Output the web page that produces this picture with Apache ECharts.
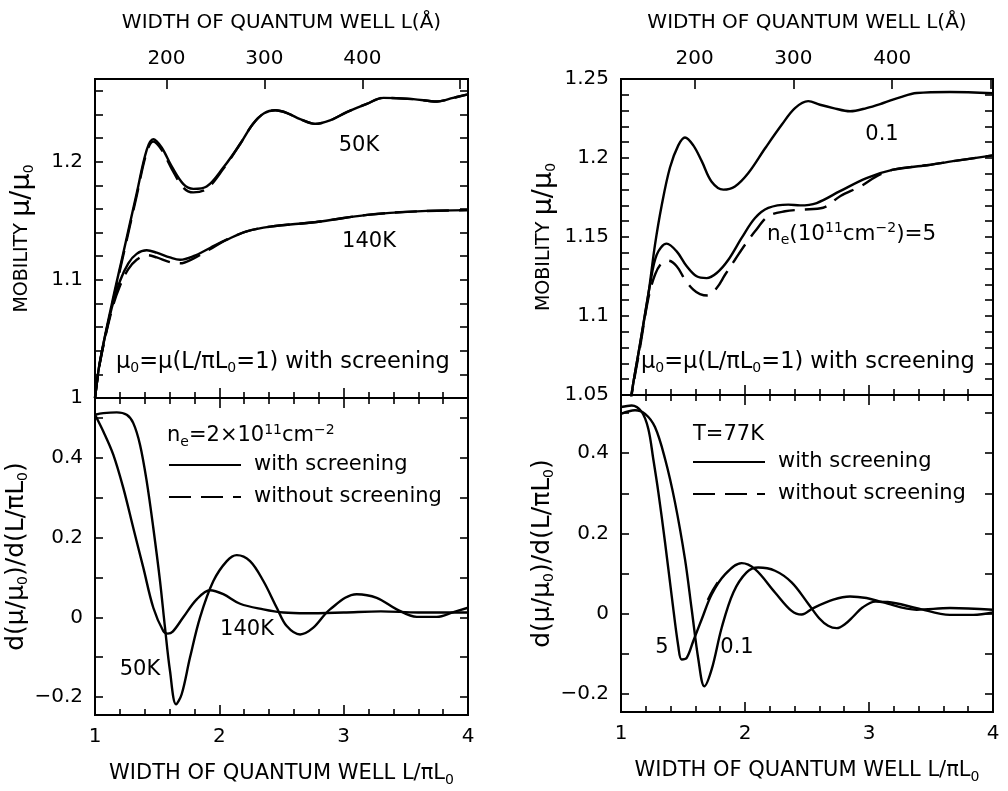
<!DOCTYPE html>
<html><head><meta charset="utf-8">
<script src="https://cdn.jsdelivr.net/npm/echarts@6/dist/echarts.min.js"></script>
<style>html,body{margin:0;padding:0;background:#fff}#c{width:1008px;height:791px}</style>
</head><body><div id="c"></div><script>
// ---------------- DATA ----------------
// Left column (n_e = 2x10^11 cm^-2), top panel: mobility mu/mu0
const lt50K_x  = [1.0, 1.04, 1.134, 1.228, 1.335, 1.416, 1.469, 1.536, 1.617, 1.711, 1.791, 1.898, 2.032, 2.167, 2.27, 2.36, 2.45, 2.55, 2.65, 2.77, 2.89, 3.025, 3.186, 3.32, 3.56, 3.75, 3.88, 4.0];
const lt50K_y  = [1.0, 1.031, 1.079, 1.123, 1.173, 1.210, 1.219, 1.212, 1.196, 1.181, 1.177, 1.179, 1.195, 1.215, 1.232, 1.241, 1.2435, 1.241, 1.236, 1.232, 1.235, 1.242, 1.249, 1.254, 1.253, 1.251, 1.254, 1.257];
const lt50Kd_y = [1.0, 1.030, 1.077, 1.121, 1.171, 1.208, 1.217, 1.210, 1.194, 1.178, 1.174, 1.177, 1.194, 1.215, 1.232, 1.241, 1.2435, 1.241, 1.236, 1.232, 1.235, 1.242, 1.249, 1.254, 1.253, 1.251, 1.254, 1.257];
const lt140K_x  = [1.0, 1.04, 1.134, 1.201, 1.268, 1.335, 1.416, 1.496, 1.603, 1.684, 1.791, 1.925, 2.06, 2.22, 2.41, 2.78, 3.19, 3.59, 4.0];
const lt140K_y  = [1.0, 1.031, 1.076, 1.099, 1.114, 1.122, 1.125, 1.123, 1.119, 1.117, 1.120, 1.127, 1.134, 1.141, 1.145, 1.149, 1.155, 1.158, 1.159];
const lt140Kd_y = [1.0, 1.030, 1.074, 1.095, 1.109, 1.117, 1.121, 1.119, 1.115, 1.114, 1.118, 1.126, 1.134, 1.141, 1.145, 1.149, 1.155, 1.158, 1.159];
// Left column, bottom panel: derivative
const lb50K_x = [1.0, 1.067, 1.175, 1.255, 1.308, 1.362, 1.416, 1.469, 1.523, 1.563, 1.603, 1.652, 1.697, 1.764, 1.845, 1.952, 2.06, 2.14, 2.247, 2.354, 2.462, 2.542, 2.65, 2.756, 2.89, 3.105, 3.266, 3.427, 3.588, 3.749, 3.883, 4.0];
const lb50K_y = [0.508, 0.512, 0.514, 0.508, 0.487, 0.433, 0.341, 0.224, 0.091, -0.026, -0.134, -0.218, -0.193, -0.101, 0.0, 0.091, 0.141, 0.156, 0.141, 0.091, 0.024, -0.022, -0.043, -0.026, 0.02, 0.058, 0.049, 0.02, 0.001, 0.001, 0.013, 0.024];
const lb140K_x = [1.0, 1.067, 1.147, 1.228, 1.308, 1.389, 1.469, 1.55, 1.585, 1.625, 1.71, 1.818, 1.925, 2.032, 2.167, 2.354, 2.515, 2.7, 3.0, 3.3, 3.6, 4.0];
const lb140K_y = [0.508, 0.466, 0.408, 0.324, 0.224, 0.124, 0.024, -0.035, -0.041, -0.036, 0.0, 0.045, 0.068, 0.058, 0.034, 0.02, 0.012, 0.01, 0.012, 0.015, 0.012, 0.012];
// Right column (T = 77K), top panel: mobility, n_e = 0.1 and 5 (x10^11 cm^-2)
const rt01_x = [1.0, 1.086, 1.153, 1.22, 1.274, 1.328, 1.395, 1.462, 1.516, 1.583, 1.651, 1.731, 1.825, 1.919, 2.027, 2.161, 2.296, 2.403, 2.51, 2.605, 2.712, 2.847, 2.98, 3.115, 3.25, 3.385, 3.653, 4.0];
const rt01_y = [1.0, 1.051, 1.082, 1.1135, 1.145, 1.170, 1.194, 1.208, 1.213, 1.208, 1.198, 1.185, 1.180, 1.182, 1.1905, 1.206, 1.221, 1.2316, 1.236, 1.2337, 1.2316, 1.2296, 1.2316, 1.2348, 1.2384, 1.2411, 1.2418, 1.241];
const rt5_x = [1.0, 1.086, 1.153, 1.234, 1.288, 1.368, 1.449, 1.53, 1.61, 1.691, 1.772, 1.866, 1.973, 2.081, 2.188, 2.349, 2.444, 2.578, 2.766, 2.98, 3.196, 3.465, 3.707, 4.0];
const rt5_y = [1.0, 1.051, 1.082, 1.1198, 1.1388, 1.1458, 1.1409, 1.1315, 1.1251, 1.124, 1.1272, 1.1356, 1.1494, 1.162, 1.1684, 1.1705, 1.170, 1.1715, 1.179, 1.1873, 1.1926, 1.1954, 1.1983, 1.2017];
const rt5d_x = [1.0, 1.086, 1.153, 1.22, 1.274, 1.328, 1.381, 1.449, 1.516, 1.583, 1.637, 1.70, 1.772, 1.839, 1.919, 2.0, 2.081, 2.188, 2.323, 2.457, 2.63, 2.77, 2.93, 3.06, 3.196, 3.465, 3.707, 4.0];
const rt5d_y = [1.0, 1.050, 1.080, 1.111, 1.1261, 1.1335, 1.135, 1.1315, 1.123, 1.1167, 1.1139, 1.113, 1.1177, 1.1261, 1.1356, 1.1451, 1.1536, 1.1631, 1.1663, 1.1673, 1.1685, 1.176, 1.182, 1.1884, 1.1926, 1.1954, 1.1983, 1.2017];
// Right column, bottom panel: derivative
const rb01_x = [1.0, 1.113, 1.194, 1.274, 1.355, 1.435, 1.516, 1.57, 1.624, 1.672, 1.731, 1.812, 1.906, 2.013, 2.107, 2.242, 2.376, 2.51, 2.6, 2.67, 2.74, 2.81, 2.873, 2.95, 3.05, 3.15, 3.385, 3.653, 3.841, 4.0];
const rb01_y = [0.498, 0.507, 0.498, 0.465, 0.386, 0.278, 0.136, 0.011, -0.114, -0.181, -0.139, -0.035, 0.053, 0.103, 0.115, 0.107, 0.078, 0.025, -0.012, -0.030, -0.036, -0.025, -0.007, 0.016, 0.030, 0.029, 0.014, -0.003, -0.003, 0.003];
const rb5_x = [1.0, 1.086, 1.167, 1.22, 1.26, 1.301, 1.355, 1.409, 1.462, 1.489, 1.53, 1.583, 1.651, 1.731, 1.839, 1.973, 2.081, 2.242, 2.376, 2.457, 2.55, 2.712, 2.847, 2.98, 3.115, 3.385, 3.653, 4.0];
const rb5_y = [0.515, 0.519, 0.503, 0.461, 0.386, 0.303, 0.178, 0.044, -0.081, -0.114, -0.11, -0.068, -0.014, 0.048, 0.098, 0.126, 0.111, 0.053, 0.007, -0.002, 0.014, 0.035, 0.043, 0.039, 0.028, 0.010, 0.014, 0.010];
const rb5d_x = [1.70, 1.74, 1.78];
const rb5d_y = [0.034, 0.058, 0.078];

// Tick / label values
const xLabels = [1, 2, 3, 4];
const angLabels = [200, 300, 400];
const angTicks = [200, 300, 400, 500];
const ltYLabels = [1, 1.1, 1.2];
const ltYTicks = [1.0, 1.02, 1.04, 1.06, 1.08, 1.1, 1.12, 1.14, 1.16, 1.18, 1.2, 1.22, 1.24, 1.26];
const rtYLabels = [1.05, 1.1, 1.15, 1.2, 1.25];
const rtYTicks = [1.05, 1.06, 1.07, 1.08, 1.09, 1.1, 1.11, 1.12, 1.13, 1.14, 1.15, 1.16, 1.17, 1.18, 1.19, 1.2, 1.21, 1.22, 1.23, 1.24, 1.25];
const bYLabels = [-0.2, 0, 0.2, 0.4];
const bYTicks = [-0.2, -0.1, 0, 0.1, 0.2, 0.3, 0.4, 0.5];

// ---------------- STYLE / BUILD ----------------
const F = "'DejaVu Sans', sans-serif";
const TS = {color: '#000', width: 1.6};
const fmt = v => String(+(+v).toFixed(2)).replace('-', '\u2212');
const SUB = {fontSize: 14, fontFamily: F, lineHeight: 14, verticalAlign: 'bottom', color: '#000'};
const SUP = {fontSize: 14, fontFamily: F, lineHeight: 14, verticalAlign: 'top', color: '#000'};
const RICH = {
  s: SUB, u: SUP,
  a: {fontSize: 19, fontFamily: F, lineHeight: 28, color: '#000'},
  g: {fontSize: 25, fontFamily: F, lineHeight: 28, color: '#000'},
  h: {fontSize: 27, fontFamily: F, lineHeight: 28, color: '#000'},
  t: {fontSize: 21, fontFamily: F, lineHeight: 26, color: '#000'}
};

const grids = [
  {left: 95, top: 79, width: 373, height: 319},
  {left: 95, top: 398, width: 373, height: 317},
  {left: 621, top: 79, width: 372, height: 316},
  {left: 621, top: 395, width: 372, height: 317}
].map(g => Object.assign({show: true, borderColor: '#000', borderWidth: 2, backgroundColor: 'transparent'}, g));

function xAx(gi, pos, showLabels, name, gap) {
  return {
    type: 'value', gridIndex: gi, position: pos, min: 1, max: 4, interval: 1,
    axisLine: {show: false, onZero: false}, splitLine: {show: false},
    axisTick: {show: true, inside: true, length: 10, lineStyle: TS},
    minorTick: {show: true, splitNumber: 5, length: 6, lineStyle: TS},
    axisLabel: {show: showLabels, customValues: xLabels, fontSize: 20, fontFamily: F, color: '#000', margin: 12},
    name: name || '', nameLocation: 'middle', nameGap: gap || 0,
    nameTextStyle: {fontSize: 21, fontFamily: F, color: '#000', lineHeight: 26, rich: RICH}
  };
}
function angAx(gi, min, max) {
  return {
    type: 'value', gridIndex: gi, position: 'top', min: min, max: max,
    axisLine: {show: false, onZero: false}, splitLine: {show: false},
    axisTick: {show: true, inside: true, length: 10, customValues: angTicks, lineStyle: TS},
    axisLabel: {show: true, customValues: angLabels, fontSize: 20, fontFamily: F, color: '#000', margin: 10},
    name: 'WIDTH OF QUANTUM WELL L(Å)', nameLocation: 'middle', nameGap: 46,
    nameTextStyle: {fontSize: 20, fontFamily: F, color: '#000'}
  };
}
function yAx(gi, pos, min, max, labels, ticks, name, gap) {
  return {
    type: 'value', gridIndex: gi, position: pos, min: min, max: max,
    axisLine: {show: false, onZero: false}, splitLine: {show: false},
    axisTick: {show: true, inside: true, length: 8, customValues: ticks, lineStyle: TS},
    axisLabel: labels ? {show: true, customValues: labels, fontSize: 20, fontFamily: F, color: '#000', margin: 12, formatter: fmt} : {show: false},
    name: name || '', nameLocation: 'middle', nameGap: gap || 0,
    nameTextStyle: {fontSize: 20, fontFamily: F, color: '#000', lineHeight: 28, rich: RICH}
  };
}
const MOB = '{a|MOBILITY} {h|μ/μ}{s|0}';
const DER = '{g|d(μ/μ}{s|0}{g|)/d(L/πL}{s|0}{g|)}';
const XN = '{t|WIDTH OF QUANTUM WELL L/πL}{s|0}';

const xAxis = [
  xAx(0, 'bottom', false),
  angAx(0, 127, 508),
  xAx(1, 'bottom', true, XN, 46),
  xAx(1, 'top', false),
  xAx(2, 'bottom', false),
  angAx(2, 125.5, 502),
  xAx(3, 'bottom', true, XN, 46),
  xAx(3, 'top', false)
];

const yAxis = [
  yAx(0, 'left', 1.0, 1.27, ltYLabels, ltYTicks, MOB, 59),
  yAx(0, 'right', 1.0, 1.27, null, ltYTicks),
  yAx(1, 'left', -0.245, 0.55, bYLabels, bYTicks, DER, 61),
  yAx(1, 'right', -0.245, 0.55, null, bYTicks),
  yAx(2, 'left', 1.05, 1.25, rtYLabels, rtYTicks, MOB, 63),
  yAx(2, 'right', 1.05, 1.25, null, rtYTicks),
  yAx(3, 'left', -0.245, 0.545, bYLabels, bYTicks, DER, 61),
  yAx(3, 'right', -0.245, 0.545, null, bYTicks)
];

function pts(xs, ys) { return xs.map((x, i) => [x, ys[i]]); }
function line(xs, ys, xi, yi, dashed) {
  return {
    type: 'line', name: dashed ? 'without screening' : 'with screening',
    xAxisIndex: xi, yAxisIndex: yi, data: pts(xs, ys),
    smooth: 0.35, showSymbol: false, symbol: 'none', clip: true, silent: true,
    lineStyle: {color: '#000', width: 2.4, type: dashed ? [22, 10] : 'solid'},
    itemStyle: {color: '#000'}, z: dashed ? 2 : 3
  };
}
const series = [
  line(lt50K_x, lt50Kd_y, 0, 0, true),
  line(lt140K_x, lt140Kd_y, 0, 0, true),
  line(rt5d_x, rt5d_y, 4, 4, true),
  line(rb5d_x, rb5d_y, 6, 6, true),
  line(lt50K_x, lt50K_y, 0, 0, false),
  line(lt140K_x, lt140K_y, 0, 0, false),
  line(lb50K_x, lb50K_y, 2, 2, false),
  line(lb140K_x, lb140K_y, 2, 2, false),
  line(rt01_x, rt01_y, 4, 4, false),
  line(rt5_x, rt5_y, 4, 4, false),
  line(rb01_x, rb01_y, 6, 6, false),
  line(rb5_x, rb5_y, 6, 6, false)
];

function legendAt(left, top) {
  return {
    data: ['with screening', 'without screening'], orient: 'vertical', left: left, top: top,
    padding: 0, itemWidth: 72, itemHeight: 2, itemGap: 10, selectedMode: false,
    itemStyle: {opacity: 0},
    textStyle: {fontSize: 21, fontFamily: F, color: '#000', lineHeight: 22, padding: [0, 0, 0, 8]}
  };
}

function txt(x, y, text, align, size) {
  return {
    type: 'text', x: x, y: y, silent: true,
    style: {text: text, fill: '#000', fontSize: size || 21, fontFamily: F, lineHeight: 26,
            align: align || 'center', verticalAlign: 'middle', rich: RICH}
  };
}
const graphic = [
  txt(359, 146, '50K'),
  txt(369, 242, '140K'),
  txt(116, 362, 'μ{s|0}=μ(L/πL{s|0}=1) with screening', 'left', 22.5),
  txt(167, 436, 'n{s|e}=2×10{u|11}cm{u|−2}', 'left'),
  txt(247, 630, '140K'),
  txt(140, 670, '50K'),
  txt(882, 135, '0.1'),
  txt(767, 234, 'n{s|e}(10{u|11}cm{u|−2})=5', 'left', 21.5),
  txt(641, 362, 'μ{s|0}=μ(L/πL{s|0}=1) with screening', 'left', 22.5),
  txt(693, 435, 'T=77K', 'left'),
  txt(662, 648, '5'),
  txt(737, 648, '0.1')
];

const chart = echarts.init(document.getElementById('c'), null, {renderer: 'canvas'});
chart.setOption({
  animation: false,
  backgroundColor: '#fff',
  grid: grids,
  xAxis: xAxis,
  yAxis: yAxis,
  legend: [legendAt(168, 454), legendAt(692, 451)],
  series: series,
  graphic: graphic
});
</script></body></html>
